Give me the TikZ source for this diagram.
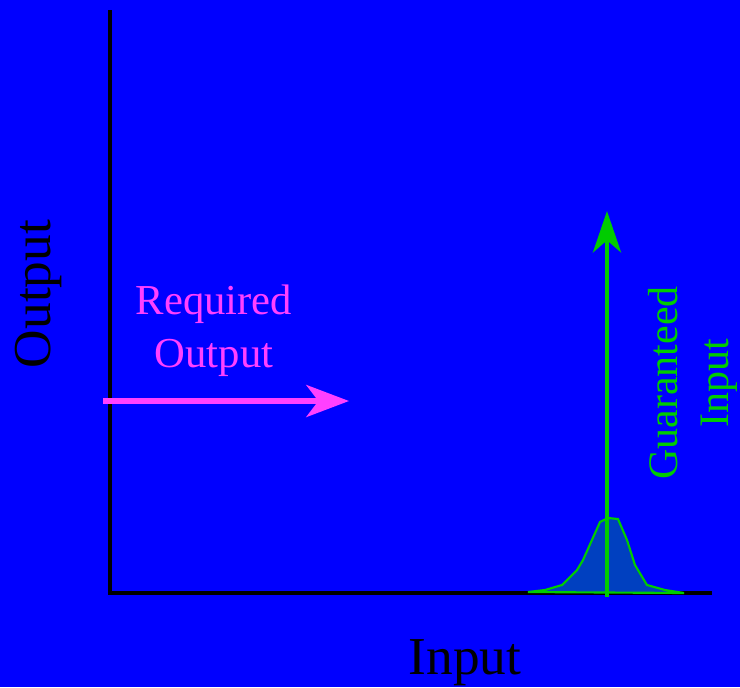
\documentclass[tikz,border=0pt]{standalone}
\usepackage{fontspec}
\setmainfont{Liberation Serif}
\usetikzlibrary{arrows.meta, positioning}
\definecolor{bgblue}{RGB}{0,0,255}
\definecolor{bumpblue}{RGB}{0,64,192}
\definecolor{reqmag}{RGB}{255,64,255}
\definecolor{guargreen}{RGB}{0,204,0}

\begin{document}
\begin{tikzpicture}[x=0.75pt, y=-0.75pt,
    axis/.style={draw=black, line width=3.4pt},
    label/.style={font=\fontsize{40}{44}\selectfont, text=black, inner sep=0pt},
    req/.style={font=\fontsize{32}{40}\selectfont, text=reqmag, align=center, inner sep=0pt},
    guar/.style={font=\fontsize{31.5}{38}\selectfont, text=guargreen, align=center, inner sep=0pt, rotate=90},
    reqarrow/.style={draw=reqmag, line width=4pt, -{Stealth[length=32pt, width=24pt, inset=9pt]}},
    guararrow/.style={draw=guargreen, line width=3.6pt, -{Stealth[length=31pt, width=21pt, inset=9pt]}},
    bump/.style={draw=guargreen, line width=1.6pt, fill=bumpblue}
]
    % Background
    \fill[bgblue] (0,0) rectangle (740,687);
    \useasboundingbox (0,0) rectangle (740,687);

    % Axes
    \coordinate (origin) at (110,593);
    \coordinate (ytop) at (110,10);
    \coordinate (xend) at (712,593);
    \draw[axis] (ytop) -- (origin) -- (xend);

    % Axis labels
    \node[label] (xlabel) at (465,663) {Input};
    \node[label, rotate=90] (ylabel) at (39,294) {Output};

    % Required output
    \node[req] (reqtext) at (214,331) {Required\\Output};
    \coordinate (reqstart) at (103,401);
    \coordinate (reqend) at (349,401);
    \draw[reqarrow] (reqstart) -- (reqend);

    % Guaranteed input distribution
    \draw[bump] (528,592) -- (545,590) -- (562,585) -- (577,570) -- (583,560)
        -- (600,522) -- (608,518) -- (618,519) -- (627,540) -- (635,565)
        -- (647,585) -- (665,590) -- (684,593) -- cycle;
    \coordinate (guarstart) at (607,597);
    \coordinate (guarend) at (607,211);
    \draw[guararrow] (guarstart) -- (guarend);
    \node[guar] (guartext) at (693,383) {Guaranteed\\Input};
\end{tikzpicture}
\end{document}
